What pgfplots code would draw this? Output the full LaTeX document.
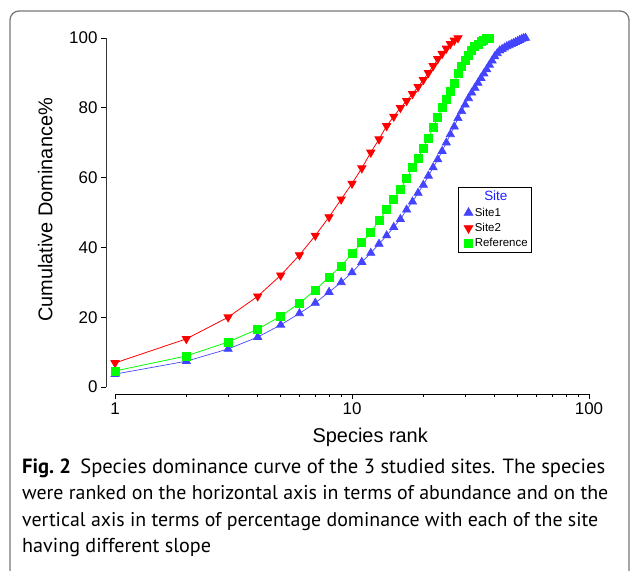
\documentclass[border=0pt]{standalone}
\usepackage{pgfplots}
\pgfplotsset{compat=1.18}
\usepackage{graphicx}
\usepackage{fontspec}
\setmainfont{Liberation Sans}
\newfontfamily\capfont{PT Sans}
\definecolor{siteblue}{RGB}{68,68,255}
\definecolor{titleblue}{RGB}{30,30,255}
\definecolor{sitered}{RGB}{255,0,0}
\definecolor{sitegreen}{RGB}{0,255,0}
\definecolor{framegray}{RGB}{120,120,120}

\pgfplotstableread{
rank val
1 3.7
2 7.4
3 10.9
4 14.3
5 17.8
6 21.1
7 24.1
8 27.2
9 30.0
10 32.8
11 35.8
12 38.4
13 41.0
14 43.4
15 45.8
16 48.1
17 50.8
18 53.1
19 55.6
20 57.9
21 60.5
22 62.9
23 65.2
24 67.6
25 70.0
26 72.4
27 74.6
28 77.0
29 79.0
30 80.9
31 82.7
32 84.3
33 85.7
34 87.1
35 88.5
36 89.8
37 91.0
38 92.3
39 93.5
40 94.7
41 95.6
42 96.4
43 96.8
44 97.2
45 97.6
46 97.9
47 98.2
48 98.5
49 98.8
50 99.1
51 99.4
52 99.7
53 99.9
54 100
}\siteone

\pgfplotstableread{
rank val
1 6.9
2 13.8
3 20.0
4 26.0
5 32.0
6 37.8
7 43.4
8 48.7
9 53.8
10 58.3
11 62.7
12 67.2
13 71.0
14 74.8
15 77.5
16 80.0
17 82.0
18 84.0
19 86.0
20 88.0
21 90.0
22 92.0
23 94.0
24 95.5
25 97.0
26 98.3
27 99.3
28 100
}\sitetwo

\pgfplotstableread{
rank val
1 4.6
2 8.9
3 12.9
4 16.6
5 20.3
6 24.0
7 27.8
8 31.5
9 34.7
10 38.2
11 41.3
12 44.4
13 47.6
14 50.8
15 53.9
16 56.6
17 59.8
18 62.8
19 65.6
20 68.5
21 71.3
22 74.3
23 77.2
24 80.0
25 82.4
26 84.8
27 87.0
28 90.0
29 91.8
30 93.5
31 95.0
32 96.4
33 97.5
34 98.3
35 98.9
36 99.4
37 99.8
38 100
}\reference

\begin{document}
\begin{tikzpicture}
\useasboundingbox (0,0) rectangle (630bp,-571bp);
\clip (0,0) rectangle (630bp,-571bp);
\draw[framegray, line width=1.3bp, rounded corners=9bp] (10bp,-11bp) rectangle (629bp,-590bp);
\begin{axis}[
  at={(106bp,-394bp)}, anchor=south west,
  scale only axis, width=483bp, height=356bp,
  xmode=log, xmin=0.916, xmax=100, ymin=-2, ymax=100,
  axis x line=bottom, axis y line=left,
  axis line style={draw=none, -},
  clip=false,
  xtick={1,10,100}, xticklabels={1,10,100},
  minor xtick={2,3,4,5,6,7,8,9,20,30,40,50,60,70,80,90},
  ytick={0,20,40,60,80,100},
  tick align=outside,
  major tick length=5bp, minor tick length=3bp,
  tick style={black, line width=0.8bp},
  /pgf/number format/assume math mode=true,
  tick label style={font=\fontsize{17}{20}\selectfont},
  label style={font=\fontsize{20}{24}\selectfont},
  xlabel={Species rank},
  ylabel={Cumulative Dominance\%},
  xlabel style={at={(axis description cs:0.547,-0.135)}, anchor=base},
  ylabel style={at={(axis description cs:-0.126,0.517)}, anchor=center, rotate=0},
  legend style={at={(axis description cs:0.729,0.581)}, anchor=north west,
    draw=black, line width=0.8bp, font=\fontsize{11.5}{13}\selectfont,
    inner sep=1.5bp, row sep=1.6bp, cells={anchor=west}},
  legend cell align=left,
]
\draw[black, line width=1bp] (axis cs:1,-2) -- (axis cs:100,-2);
\draw[black!80, line width=1bp] (axis cs:0.916,0) -- (axis cs:0.916,100);

\addplot[siteblue, line width=0.7bp, mark=triangle*, mark size=4.7bp, mark options={solid, fill=siteblue}, forget plot] table[x=rank, y=val] {\siteone};
\addplot[sitered, line width=0.8bp, mark=triangle*, mark size=4.7bp, mark options={solid, fill=sitered, rotate=180}, forget plot] table[x=rank, y=val] {\sitetwo};
\addplot[sitegreen, line width=0.8bp, mark=square*, mark size=4bp, mark options={solid, fill=sitegreen}, forget plot] table[x=rank, y=val] {\reference};

\addlegendimage{empty legend}
\addlegendentry{\hspace*{-6bp}\makebox[54bp][c]{\fontsize{13.5}{15}\selectfont\color{titleblue}Site}}
\addlegendimage{only marks, mark=triangle*, siteblue, mark size=5bp, mark options={fill=siteblue}}
\addlegendentry{Site1}
\addlegendimage{only marks, mark=triangle*, sitered, mark size=5bp, mark options={fill=sitered, rotate=180}}
\addlegendentry{Site2}
\addlegendimage{only marks, mark=square*, sitegreen, mark size=4.2bp, mark options={fill=sitegreen}}
\addlegendentry{Reference}
\end{axis}
\begin{scope}[every node/.style={anchor=base west, inner sep=0pt, font=\capfont\fontsize{20}{24}\selectfont}]
\node at (22bp,-473bp) {\resizebox{583bp}{!}{\textbf{Fig.~2}\hspace{0.45em}Species dominance curve of the 3 studied sites. The species}};
\node at (22bp,-499.5bp) {\resizebox{586bp}{!}{were ranked on the horizontal axis in terms of abundance and on the}};
\node at (22bp,-526bp) {\resizebox{576bp}{!}{vertical axis in terms of percentage dominance with each of the site}};
\node[font=\capfont\fontsize{20.2}{24}\selectfont] at (22bp,-552.5bp) {having different slope};
\end{scope}
\end{tikzpicture}
\end{document}
